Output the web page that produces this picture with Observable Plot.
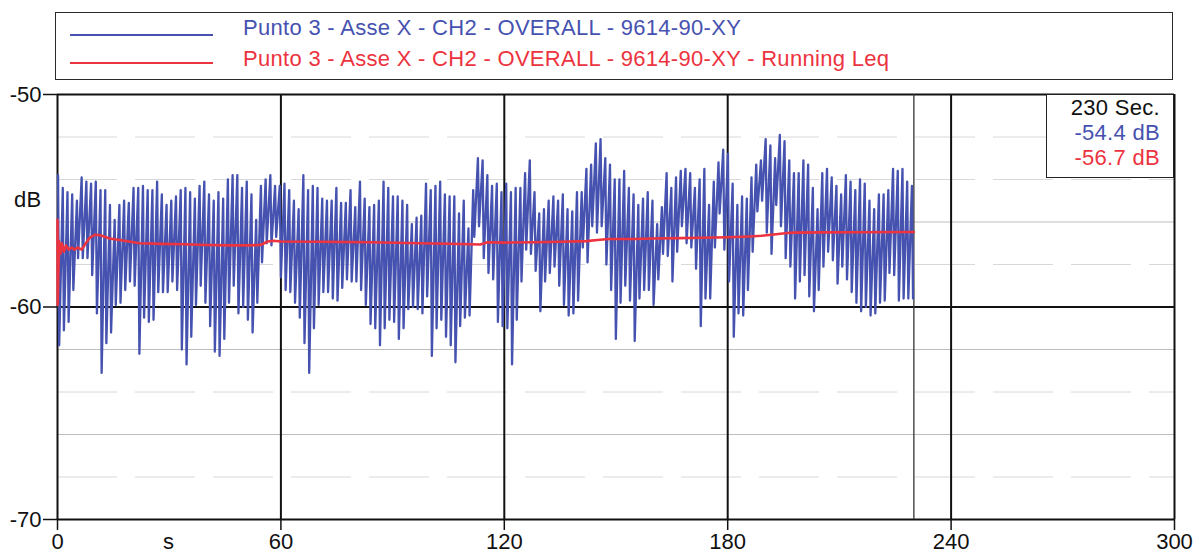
<!DOCTYPE html>
<html>
<head>
<meta charset="utf-8">
<script src="https://cdn.jsdelivr.net/npm/d3@7"></script>
<script src="https://cdn.jsdelivr.net/npm/@observablehq/plot@0.6"></script>
<style>
  html, body { margin: 0; padding: 0; background: #fff; }
  body { width: 1196px; height: 553px; overflow: hidden; position: relative;
         font-family: "Liberation Sans", Arial, Helvetica, sans-serif; }
  .abs { position: absolute; white-space: nowrap; }
  .txt { font-size: 22px; line-height: 22px; letter-spacing: 0.3px; }
</style>
</head>
<body>
<div id="chart" class="abs" style="left:0;top:82px"></div>
<script>
// ---------------- data ----------------
const seriesNames = [
  "Punto 3 - Asse X - CH2 - OVERALL - 9614-90-XY",
  "Punto 3 - Asse X - CH2 - OVERALL - 9614-90-XY - Running Leq"
];
const seriesColors = ["#4652b0", "#ec3340"];

const xTicks = [0, 60, 120, 180, 240, 300];
const yTicks = [-50, -60, -70];
const yMinorStrong = [-56, -62, -66];
const yMinorFaint = [-52, -54, -58, -64, -68];
const xLabel = "s";
const yLabel = "dB";

// cursor readout
const cursorSec = 230;
const cursorLabel = "230 Sec.";
const cursorValues = ["-54.4 dB", "-56.7 dB"];

// OVERALL level: one fast swing per cycle (peak then trough)
const firstPeakSec = 0.15;
const cycleSec = 1.267;
const troughLagSec = 0.3;
const peakDb = [
  -53.8,-54.4,-54.6,-54.7,-55.0,-53.9,-54.1,-54.2,-54.1,-54.5,
  -54.5,-55.2,-55.9,-55.2,-55.0,-55.1,-54.4,-54.4,-54.3,-54.5,
  -54.5,-54.1,-54.7,-55.2,-55.0,-54.8,-54.5,-54.4,-54.6,-54.9,
  -54.3,-54.1,-54.7,-55.0,-54.6,-54.9,-54.0,-53.8,-53.8,-54.4,
  -54.1,-54.7,-55.9,-54.3,-54.0,-53.8,
  -54.3,-54.3,-54.2,-54.5,-55.0,-55.4,-53.8,-54.5,-54.3,-54.4,
  -54.9,-55.0,-55.0,-54.4,-55.1,-55.1,-54.5,-55.3,-54.1,-54.9,
  -55.3,-55.2,-55.0,-54.1,-54.4,-54.8,-54.8,-55.0,-55.2,-56.1,
  -55.8,-55.7,-54.2,-54.5,-54.3,-54.1,-54.7,-54.8,-54.8,-55.6,
  -55.0,-56.3,-54.5,-53.0,-53.1,-53.8,
  -54.3,-54.2,-54.6,-54.2,-54.6,-54.4,-54.4,-53.7,-53.1,-54.6,
  -55.6,-55.4,-55.0,-54.8,-55.0,-54.7,-55.4,-55.5,-54.6,-54.6,
  -53.5,-53.3,-52.3,-52.1,-53.0,-53.3,-54.0,-54.0,-53.6,-54.4,
  -54.7,-55.2,-54.9,-54.6,-55.0,-56.1,-55.3,-53.7,-54.4,-53.9,
  -53.6,-53.5,-53.7,-54.4,-54.0,-53.5,
  -55.2,-54.1,-53.2,-52.6,-52.8,-54.2,-55.2,-54.8,-54.9,-53.9,
  -53.3,-53.1,-52.1,-52.4,-53.0,-51.9,-52.2,-53.1,-53.7,-53.7,
  -53.1,-53.3,-54.4,-55.4,-53.7,-53.5,-53.9,-54.3,-54.7,-53.8,
  -54.1,-54.5,-54.0,-54.2,-55.0,-55.4,-54.7,-54.7,-54.5,-53.5,
  -53.6,-53.5,-54.1,-54.3
];
const troughDb = [
  -61.8,-61.1,-60.7,-59.2,-57.7,-57.7,-57.7,-58.5,-60.3,-63.1,
  -61.7,-61.2,-59.9,-59.8,-59.2,-58.8,-59.0,-62.2,-60.5,-60.7,
  -60.6,-59.3,-59.3,-59.3,-58.8,-59.2,-62.0,-62.7,-61.4,-59.9,
  -59.0,-59.8,-60.9,-62.1,-62.3,-61.5,-59.8,-59.0,-60.3,-60.0,
  -60.6,-61.2,-59.8,-57.9,-57.0,
  -57.1,-56.7,-58.6,-59.2,-59.3,-59.8,-60.5,-61.7,-63.1,-61.0,
  -59.9,-59.3,-59.3,-59.6,-59.7,-59.1,-58.7,-58.8,-58.8,-59.2,
  -59.9,-60.8,-61.0,-61.8,-61.0,-60.6,-60.7,-61.5,-61.0,-60.1,
  -60.0,-60.1,-60.3,-59.5,-62.3,-61.0,-60.6,-61.4,-61.8,-62.6,
  -60.9,-60.5,-60.4,-56.7,-56.2,-57.7,
  -58.4,-58.7,-60.7,-60.9,-61.0,-62.7,-60.6,-58.8,-57.3,-57.5,
  -58.3,-60.2,-58.8,-58.4,-58.1,-59.0,-59.9,-60.4,-60.3,-59.7,
  -57.2,-57.9,-56.2,-56.5,-56.2,-58.0,-59.2,-61.5,-59.8,-59.0,
  -59.7,-61.6,-59.6,-59.2,-59.2,-59.9,-58.7,-57.5,-57.6,-58.8,
  -57.4,-56.2,-57.0,-57.2,-58.2,-60.9,
  -59.6,-59.6,-57.2,-55.6,-57.3,-58.8,-61.4,-60.3,-60.4,-59.2,
  -57.4,-55.5,-55.0,-56.5,-57.5,-55.2,-56.2,-57.7,-58.1,-59.6,
  -58.8,-58.5,-59.5,-60.2,-59.2,-58.1,-57.4,-57.8,-58.9,-58.1,
  -58.7,-59.3,-59.8,-60.2,-60.0,-60.4,-60.3,-59.8,-59.7,-58.4,
  -58.5,-59.7,-59.6,-59.6,-59.6
];

// Running Leq
const leqSec = [0,0.05,0.4,0.8,1.2,1.7,2.3,3.0,3.8,4.6,
  5.4,6.5,7.6,8.6,10,11.5,14,18,22,28,
  34,40,47,51,54.5,56.5,58,60,70,84,
  97,105,111,113.5,115.5,120,128,135,142,145,
  148,155,160,167,173,180,186,189,193,196,
  198,205,215,230];
const leqDb = [-55.9,-59.9,-56.9,-57.5,-57.0,-57.4,-57.1,-57.3,-57.2,-57.3,
  -57.2,-57.3,-57.0,-56.75,-56.6,-56.62,-56.78,-56.88,-57.0,-57.03,
  -57.05,-57.08,-57.1,-57.1,-57.08,-56.92,-56.88,-56.92,-56.93,-56.95,
  -57.0,-57.02,-57.05,-57.06,-56.95,-56.97,-56.95,-56.93,-56.9,-56.85,
  -56.8,-56.8,-56.78,-56.76,-56.74,-56.72,-56.68,-56.65,-56.58,-56.52,
  -56.5,-56.49,-56.48,-56.47];

// ---------------- tables for the library ----------------
const overall = [];
peakDb.forEach((p, i) => {
  const t = firstPeakSec + i * cycleSec;
  overall.push({t, db: p});
  overall.push({t: t + troughLagSec, db: troughDb[i]});
});
const leq = leqSec.map((t, i) => ({t, db: leqDb[i]}));

const fmt = d => String(d);
const chart = Plot.plot({
  width: 1196,
  height: 471,
  marginLeft: 57,
  marginRight: 22,
  marginTop: 12,
  marginBottom: 34,
  style: {fontFamily: "'Liberation Sans', Arial, sans-serif", fontSize: "22px", color: "#111", background: "transparent", overflow: "visible"},
  x: {domain: [0, 300], label: null},
  y: {domain: [-70, -50], label: null},
  marks: [
    Plot.ruleY(yMinorStrong, {stroke: "#bdbdbd", strokeWidth: 1}),
    Plot.ruleY(yMinorFaint, {stroke: "#d8d8d8", strokeWidth: 1, strokeDasharray: "60,18"}),
    Plot.ruleX(xTicks, {stroke: "#111", strokeWidth: 2}),
    Plot.ruleY(yTicks, {stroke: "#111", strokeWidth: 2}),
    Plot.ruleX([cursorSec], {stroke: "#333", strokeWidth: 1.3}),
    Plot.line(overall, {x: "t", y: "db", stroke: seriesColors[0], strokeWidth: 2.3}),
    Plot.line(leq, {x: "t", y: "db", stroke: seriesColors[1], strokeWidth: 2.6}),
    Plot.axisX({ticks: xTicks, tickFormat: fmt, tickSize: 11, tickPadding: 3, strokeWidth: 1.5, label: null}),
    Plot.axisY({ticks: yTicks, tickFormat: fmt, tickSize: 14, tickPadding: 2, strokeWidth: 1.5, label: null})
  ]
});
document.getElementById("chart").appendChild(chart);

// ---------------- legend, labels, readout ----------------
function add(html, style, cls) {
  const d = document.createElement("div");
  d.className = "abs " + (cls || "");
  d.setAttribute("style", style);
  d.textContent = html;
  document.body.appendChild(d);
  return d;
}
add("", "left:55px;top:12px;width:1118px;height:68px;border:1.5px solid #2a2a2a;box-sizing:border-box;");
const legendTops = [34, 62];
const textTops = [17, 48];
seriesNames.forEach((name, i) => {
  add("", `left:70px;top:${legendTops[i]}px;width:143px;height:0;border-top:2px solid ${seriesColors[i]};`);
  add(name, `left:243px;top:${textTops[i]}px;color:${seriesColors[i]};`, "txt");
});
add(yLabel, "left:14px;top:189px;color:#111;", "txt");
add(xLabel, "left:163px;top:531px;color:#111;", "txt");

const box = add("", "left:1046px;top:94px;width:128px;height:84px;border:1.5px solid #222;box-sizing:border-box;background:#fff;");
const lines = [cursorLabel, ...cursorValues];
const lineColors = ["#111", seriesColors[0], seriesColors[1]];
lines.forEach((s, i) => {
  add(s, `right:${1196 - 1160}px;top:${97 + i * 25}px;color:${lineColors[i]};text-align:right;`, "txt");
});
</script>
</body>
</html>
